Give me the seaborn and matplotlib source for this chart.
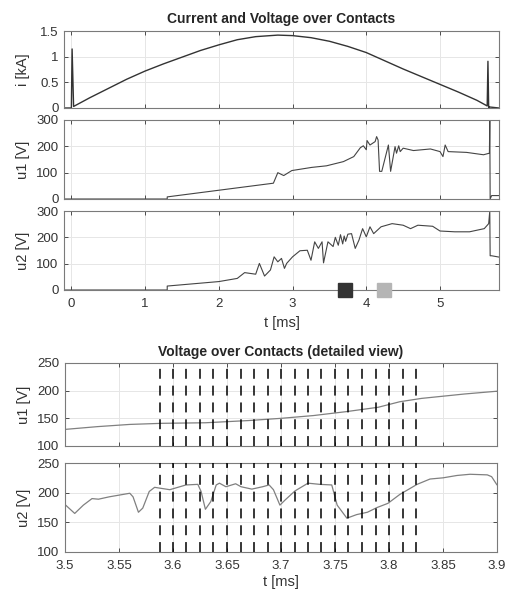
import matplotlib
matplotlib.use("Agg")
import matplotlib.pyplot as plt
import seaborn as sns

# ---- data ----
t_i = [-0.1, 0.0, 0.01, 0.03, 0.25, 0.5, 0.75, 1.0, 1.25, 1.5, 1.75, 2.0, 2.25,
       2.5, 2.8, 3.0, 3.25, 3.5, 3.75, 4.0, 4.25, 4.5, 4.75, 5.0, 5.25, 5.5,
       5.64, 5.65, 5.66, 5.67, 5.8]
i_ka = [0, 0, 1.15, 0.03, 0.20, 0.38, 0.56, 0.72, 0.86, 0.99, 1.12, 1.23, 1.33,
        1.39, 1.42, 1.41, 1.37, 1.30, 1.20, 1.08, 0.92, 0.76, 0.61, 0.46, 0.31,
        0.15, 0.04, 0.91, 0.0, 0.02, 0.0]

t_u1 = [-0.1, 1.3, 1.3, 2.74, 2.80, 2.88, 2.99, 3.26, 3.46, 3.69, 3.83, 3.92,
        3.96, 4.0, 4.01, 4.05, 4.12, 4.14, 4.16, 4.18, 4.21, 4.30, 4.33, 4.39,
        4.41, 4.44, 4.46, 4.50, 4.64, 4.87, 5.0, 5.04, 5.07, 5.11, 5.36, 5.59,
        5.67, 5.675, 5.68, 5.70, 5.8]
u1 = [0, 0, 8, 60, 100, 89, 108, 120, 126, 142, 161, 195,
      202, 187, 222, 205, 218, 237, 224, 105, 105, 205, 105, 199,
      174, 202, 180, 193, 184, 190, 180, 161, 205, 180, 177, 168,
      174, 300, 0, 13, 13]

t_u2 = [-0.1, 1.3, 1.3, 2.0, 2.25, 2.35, 2.5, 2.55, 2.62, 2.7, 2.75, 2.8,
        2.85, 2.89, 2.92, 3.0, 3.1, 3.2, 3.25, 3.3, 3.35, 3.4, 3.42, 3.48,
        3.55, 3.58, 3.62, 3.65, 3.68, 3.7, 3.72, 3.75, 3.8, 3.85, 3.9, 3.95,
        4.0, 4.05, 4.1, 4.2, 4.35, 4.5, 4.6, 4.7, 4.9, 5.0, 5.2, 5.4, 5.6,
        5.66, 5.675, 5.68, 5.70, 5.8]
u2 = [0, 0, 15, 32, 44, 66, 60, 101, 53, 76, 126, 107,
      120, 82, 101, 126, 149, 151, 113, 183, 158, 183, 103, 183,
      165, 200, 170, 210, 175, 205, 185, 212, 214, 158, 189, 233,
      202, 240, 214, 240, 252, 246, 233, 246, 242, 224, 221, 221, 233,
      252, 300, 130, 130, 125]

mark_t = [3.71, 4.245]
mark_u = [0, 0]
mark_col = ["#333333", "#b5b5b5"]

td1 = [3.5, 3.53, 3.56, 3.59, 3.63, 3.67, 3.70, 3.73, 3.76, 3.79, 3.81, 3.83,
       3.85, 3.87, 3.9]
ud1 = [130, 135, 139, 141, 142, 146, 150, 155, 162, 170, 180, 186,
       190, 194, 199]

td2 = [3.5, 3.509, 3.517, 3.525, 3.531, 3.541, 3.56, 3.563, 3.568, 3.572, 3.578,
       3.583, 3.597, 3.612, 3.623, 3.626, 3.63, 3.635, 3.64, 3.643, 3.649, 3.658,
       3.663, 3.673, 3.683, 3.689, 3.693, 3.699, 3.704, 3.713, 3.725, 3.736,
       3.747, 3.752, 3.761, 3.770, 3.780, 3.789, 3.799, 3.810, 3.826, 3.838,
       3.850, 3.863, 3.875, 3.891, 3.895, 3.9]
ud2 = [180, 165, 179, 190, 189, 193, 199, 193, 167, 174, 202,
       209, 205, 213, 214, 202, 172, 185, 213, 216, 210, 215,
       210, 206, 210, 213, 205, 179, 188, 203, 216, 214,
       213, 179, 157, 163, 167, 175, 182, 197, 214, 223,
       225, 229, 231, 230, 227, 213]

dash_t = [3.5875 + 0.0125 * k for k in range(20)]

# ---- style ----
sns.set_style("whitegrid", {"grid.color": "#e6e6e6", "axes.edgecolor": "#7a7a7a",
                            "xtick.direction": "in", "ytick.direction": "in"})
plt.rcParams["font.family"] = ["Liberation Sans", "DejaVu Sans"]
plt.rcParams["font.size"] = 9.5
plt.rcParams["xtick.color"] = "#333333"
plt.rcParams["ytick.color"] = "#333333"

W, H = 507, 597
fig = plt.figure(figsize=(W / 100, H / 100), dpi=100)


def box(l, t, r, b):
    return fig.add_axes([l / W, 1 - b / H, (r - l) / W, (b - t) / H])


def tidy(ax, ylab):
    ax.set_ylabel(ylab, fontsize=10.5, color="#333333")
    ax.yaxis.set_label_coords(-0.078, 0.5)
    ax.tick_params(length=3, width=0.6, labelsize=9.5,
                   top=True, right=True, left=True, bottom=True)
    ax.tick_params(axis="x", pad=6)
    ax.tick_params(axis="y", pad=4)
    for s in ax.spines.values():
        s.set_linewidth(0.8)
    ax.grid(True, linewidth=0.7)


ax1 = box(64, 31, 499, 108)
ax2 = box(64, 120, 499, 199)
ax3 = box(64, 211, 499, 290)
ax4 = box(65, 363, 497, 446)
ax5 = box(65, 463, 497, 552)

sns.lineplot(x=t_i, y=i_ka, ax=ax1, color="#333333", linewidth=1.0,
             estimator=None, sort=False)
sns.lineplot(x=t_u1, y=u1, ax=ax2, color="#444444", linewidth=0.8,
             estimator=None, sort=False)
sns.lineplot(x=t_u2, y=u2, ax=ax3, color="#444444", linewidth=0.8,
             estimator=None, sort=False)
for tt, uu, cc in zip(mark_t, mark_u, mark_col):
    ax3.plot(tt, uu, marker="s", markersize=10, color=cc, clip_on=False,
             zorder=5, markeredgecolor=cc)

sns.lineplot(x=td1, y=ud1, ax=ax4, color="#808080", linewidth=0.9,
             estimator=None, sort=False)
sns.lineplot(x=td2, y=ud2, ax=ax5, color="#808080", linewidth=0.9,
             estimator=None, sort=False)
for ax in (ax4, ax5):
    for x in dash_t:
        ax.axvline(x, color="black", linewidth=1.1, linestyle=(0, (6.5, 4.5)), zorder=4)

ax1.set_ylim(0, 1.5)
ax1.set_yticks([0, 0.5, 1, 1.5])
ax1.set_yticklabels(["0", "0.5", "1", "1.5"])
for ax in (ax2, ax3):
    ax.set_ylim(0, 300)
    ax.set_yticks([0, 100, 200, 300])
for ax in (ax1, ax2, ax3):
    ax.set_xlim(-0.1, 5.8)
    ax.set_xticks([0, 1, 2, 3, 4, 5])
ax1.set_xticklabels([])
ax2.set_xticklabels([])
tidy(ax1, "i [kA]")
tidy(ax2, "u1 [V]")
tidy(ax3, "u2 [V]")
ax3.set_xlabel("t [ms]", fontsize=10.5, color="#333333", labelpad=4)
ax1.set_title("Current and Voltage over Contacts", fontsize=10, fontweight="bold",
              pad=6)

for ax in (ax4, ax5):
    ax.set_xlim(3.5, 3.9)
    ax.set_ylim(100, 250)
    ax.set_yticks([100, 150, 200, 250])
    ax.set_xticks([3.5, 3.55, 3.6, 3.65, 3.7, 3.75, 3.8, 3.85, 3.9])
ax5.set_xticklabels(["3.5", "3.55", "3.6", "3.65", "3.7", "3.75", "3.8", "3.85", "3.9"])
ax4.set_xticklabels([])
tidy(ax4, "u1 [V]")
tidy(ax5, "u2 [V]")
ax5.set_xlabel("t [ms]", fontsize=10.5, color="#333333", labelpad=2)
ax4.set_title("Voltage over Contacts (detailed view)", fontsize=10, fontweight="bold",
              pad=5)

fig.savefig("out.png", dpi=100)
